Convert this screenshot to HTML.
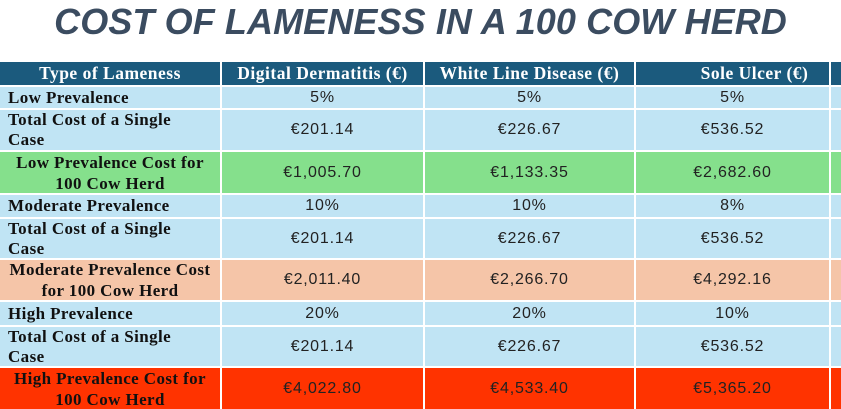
<!DOCTYPE html>
<html><head><meta charset="utf-8">
<style>
body{margin:0;width:841px;height:409px;background:#fff;overflow:hidden;position:relative}
#title{position:absolute;left:0;width:841px;top:1px;text-align:center;font:italic bold 36px "Liberation Sans",sans-serif;color:#3b4c60;letter-spacing:0.1px}
#grid{position:absolute;left:0;top:62px;display:grid;grid-template-columns:220px 201px 209px 193px 10px;grid-template-rows:23px 21px 40px 41px 22px 39px 40px 23px 39px 41px;gap:2px}
#grid div{display:flex;align-items:center;justify-content:center;font:16px "Liberation Sans",sans-serif;letter-spacing:0.8px;color:#222;overflow:hidden;white-space:nowrap}
#grid .h{background:#1b5a7d;color:#fff;font:bold 17.5px "Liberation Serif",serif;letter-spacing:0.5px}
#grid .l{justify-content:flex-start;padding-left:8px;font:bold 17px "Liberation Serif",serif;letter-spacing:0.4px;color:#111;line-height:20px}
#grid .c{font:bold 17px "Liberation Serif",serif;letter-spacing:0.4px;color:#111;text-align:center;line-height:21px}
.b{background:#c0e4f4}.g{background:#85e08c}.p{background:#f5c5a8}.r{background:#ff3300}
</style></head><body>
<div id="title">COST OF LAMENESS IN A 100 COW HERD</div>
<div id="grid">
<div class="h">Type of Lameness</div>
<div class="h">Digital Dermatitis (€)</div>
<div class="h">White Line Disease (€)</div>
<div class="h" style="padding-left:44px">Sole Ulcer (€)</div>
<div class="h"></div>

<div class="b l">Low Prevalence</div>
<div class="b">5%</div>
<div class="b">5%</div>
<div class="b">5%</div>
<div class="b"></div>

<div class="b l">Total Cost of a Single<br>Case</div>
<div class="b">€201.14</div>
<div class="b">€226.67</div>
<div class="b">€536.52</div>
<div class="b"></div>

<div class="g c">Low Prevalence Cost for<br>100 Cow Herd</div>
<div class="g">€1,005.70</div>
<div class="g">€1,133.35</div>
<div class="g">€2,682.60</div>
<div class="g"></div>

<div class="b l">Moderate Prevalence</div>
<div class="b">10%</div>
<div class="b">10%</div>
<div class="b">8%</div>
<div class="b"></div>

<div class="b l">Total Cost of a Single<br>Case</div>
<div class="b">€201.14</div>
<div class="b">€226.67</div>
<div class="b">€536.52</div>
<div class="b"></div>

<div class="p c">Moderate Prevalence Cost<br>for 100 Cow Herd</div>
<div class="p">€2,011.40</div>
<div class="p">€2,266.70</div>
<div class="p">€4,292.16</div>
<div class="p"></div>

<div class="b l">High Prevalence</div>
<div class="b">20%</div>
<div class="b">20%</div>
<div class="b">10%</div>
<div class="b"></div>

<div class="b l">Total Cost of a Single<br>Case</div>
<div class="b">€201.14</div>
<div class="b">€226.67</div>
<div class="b">€536.52</div>
<div class="b"></div>

<div class="r c">High Prevalence Cost for<br>100 Cow Herd</div>
<div class="r">€4,022.80</div>
<div class="r">€4,533.40</div>
<div class="r">€5,365.20</div>
<div class="r"></div>
</div>
</body></html>
